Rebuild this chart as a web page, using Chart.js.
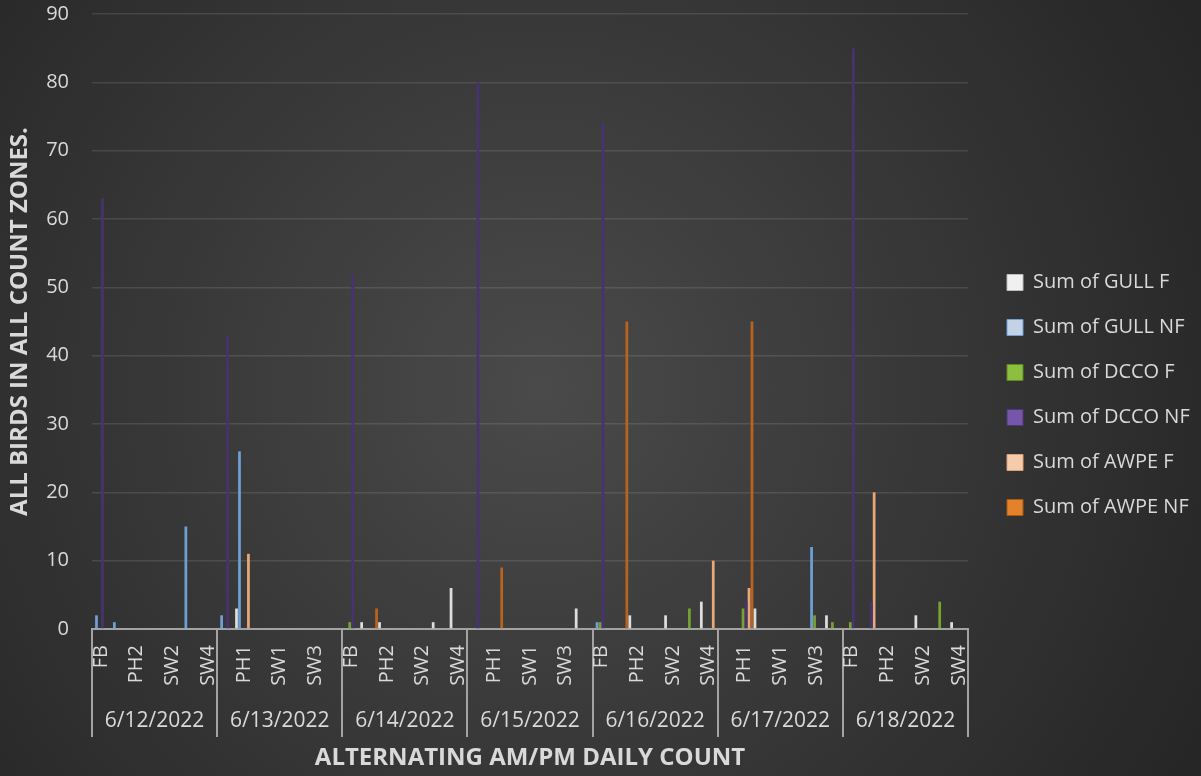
<!DOCTYPE html>
<html><head><meta charset="utf-8">
<script src="https://cdn.jsdelivr.net/npm/chart.js@4/dist/chart.umd.min.js"></script>
<style>html,body{margin:0;padding:0;background:#333;}#wrap{width:1201px;height:776px;position:relative;}</style>
</head><body><div id="wrap"><canvas id="c"></canvas></div>
<script>
const dates = ['6/12/2022','6/13/2022','6/14/2022','6/15/2022','6/16/2022','6/17/2022','6/18/2022'];
const zones = ['FB','PH1','PH2','SW1','SW2','SW3','SW4'];
const seriesNames = ['Sum of GULL F','Sum of GULL NF','Sum of DCCO F','Sum of DCCO NF','Sum of AWPE F','Sum of AWPE NF'];
const yTicks = [0,10,20,30,40,50,60,70,80,90];
const yTitle = 'ALL BIRDS IN ALL COUNT ZONES.';
const xTitle = 'ALTERNATING AM/PM DAILY COUNT';

// values per date group: FB, PH1, PH2, SW1, SW2, SW3, SW4
const gullF = [
  0,0,0,0,0,0,0,
  0,3,0,0,0,0,0,
  0,1,1,0,0,1,6,
  0,0,0,0,0,0,3,
  0,0,2,0,2,0,4,
  0,0,3,0,0,0,2,
  0,0,0,0,2,0,1];
const gullNF = [
  2,1,0,0,0,15,0,
  2,26,0,0,0,0,0,
  0,0,0,0,0,0,0,
  0,0,0,0,0,0,0,
  1,0,0,0,0,0,0,
  0,0,0,0,0,12,0,
  0,0,0,0,0,0,0];
const dccoF = [
  0,0,0,0,0,0,0,
  0,0,0,0,0,0,0,
  1,0,0,0,0,0,0,
  0,0,0,0,0,0,0,
  1,0,0,0,0,3,0,
  0,3,0,0,0,2,1,
  1,0,0,0,0,4,0];
const dccoNF = [
  63,0,0,0,0,0,0,
  43,0,0,0,0,0,0,
  52,0,0,0,0,0,0,
  80,0,0,0,0,0,0,
  74,0,0,0,0,0,0,
  0,4,0,0,0,0,0,
  85,4,0,0,0,0,0];
const awpeF = [
  0,0,0,0,0,0,0,
  0,11,0,0,0,0,0,
  0,0,0,0,0,0,0,
  0,0,0,0,0,0,0,
  0,0,0,0,0,0,10,
  0,6,0,0,0,0,0,
  0,20,0,0,0,0,0];
const awpeNF = [
  0,0,0,0,0,0,0,
  0,0,0,0,0,0,0,
  0,3,0,0,0,0,0,
  0,9,0,0,0,0,0,
  0,45,0,0,0,0,0,
  0,45,0,0,0,0,0,
  0,0,0,0,0,0,0];

const categories = dates.flatMap(() => zones);
const seriesValues = [gullF, gullNF, dccoF, dccoNF, awpeF, awpeNF];
const barColors = ['#dedede','#6f9fd8','#78a22f','#46336f','#e9a878','#b8641e'];
const legendFill = ['#f0f0f0','#c4d2e6','#8cbf3f','#7656a8','#f5cbaa','#e3822a'];
const legendStroke = ['#bdbdbd','#6f9fd8','#5e8a22','#4c3878','#d9a27a','#a85a14'];

const W = 1201, PLOT_RIGHT = 968, LEGEND_BOX_X = 1007, LEGEND_PAD = 25;
const txt = '#d9d9d9';
const sepColor = '#a3a3a3';
Chart.defaults.font.family = "'Open Sans', sans-serif";
Chart.defaults.color = txt;

const bgPlugin = {
  id: 'bg',
  beforeDraw(chart) {
    const {ctx, width, height} = chart;
    const g = ctx.createRadialGradient(width*0.45, height*0.5, 0, width*0.45, height*0.5, width*0.62);
    g.addColorStop(0, '#4a4a4a');
    g.addColorStop(1, '#262626');
    ctx.save(); ctx.fillStyle = g; ctx.fillRect(0, 0, width, height); ctx.restore();
  }
};

const chart = new Chart(document.getElementById('c'), {
  type: 'bar',
  data: {
    labels: categories,
    datasets: seriesNames.map((n, i) => ({
      label: n,
      data: seriesValues[i],
      backgroundColor: barColors[i],
      borderWidth: 0,
      barPercentage: 0.92,
      categoryPercentage: 1.0
    }))
  },
  plugins: [bgPlugin],
  options: {
    responsive: true,
    maintainAspectRatio: false,
    animation: false,
    layout: { padding: { top: 14, right: 10, bottom: 0, left: 0 } },
    plugins: {
      tooltip: { enabled: false },
      legend: {
        position: 'right',
        maxWidth: 400,
        labels: {
          color: txt,
          font: { size: 20 },
          boxWidth: 16,
          boxHeight: 16,
          padding: LEGEND_PAD,
          generateLabels(chart) {
            return chart.data.datasets.map((ds, i) => ({
              text: ds.label,
              fillStyle: legendFill[i],
              strokeStyle: legendStroke[i],
              lineWidth: 1,
              fontColor: txt,
              hidden: false,
              datasetIndex: i
            }));
          }
        }
      }
    },
    scales: {
      x: {
        type: 'category',
        position: 'bottom',
        weight: 0,
        offset: true,
        grid: {
          offset: true,
          drawOnChartArea: false,
          drawTicks: true,
          tickLength: 108,
          lineWidth: 2,
          color: (c) => (c.index === undefined || c.index % 7 === 0) ? sepColor : 'rgba(0,0,0,0)'
        },
        border: { display: true, color: sepColor, width: 2 },
        ticks: {
          autoSkip: false,
          minRotation: 90,
          maxRotation: 90,
          padding: -92,
          color: txt,
          font: { size: 20 },
          callback: function(v, i) { return i % 2 === 0 ? this.getLabelForValue(v) : ''; }
        },
        afterFit: (s) => { s.height = 64; }
      },
      x2: {
        type: 'category',
        position: 'bottom',
        weight: 1,
        labels: dates,
        offset: true,
        grid: { display: false, drawTicks: false },
        border: { display: false },
        ticks: { autoSkip: false, maxRotation: 0, minRotation: 0, padding: 15, color: txt, font: { size: 21 } },
        title: { display: true, text: xTitle, color: txt, font: { size: 24, weight: 'bold' }, padding: { top: 0, bottom: 3 } },
        afterFit: (s) => { s.height = 83; }
      },
      y: {
        min: 0,
        max: 90,
        afterBuildTicks: (s) => { s.ticks = yTicks.map(v => ({ value: v })); },
        grid: { color: 'rgba(255,255,255,0.11)', lineWidth: 1.5, drawTicks: true, tickLength: 23, tickColor: 'rgba(0,0,0,0)' },
        border: { display: false },
        ticks: { padding: 0, color: txt, font: { size: 20 } },
        title: { display: true, text: yTitle, color: txt, font: { size: 24, weight: 'bold' }, padding: { top: 6, bottom: 0 } },
        afterFit: (s) => { s.width = 92; }
      },
      y2: {
        position: 'right',
        display: true,
        grid: { display: false, drawTicks: false },
        border: { display: false },
        ticks: { display: false },
        afterFit: (s) => {
          const padR = s.chart.options.layout.padding.right;
          s.width = Math.max(0, W - padR - s.chart.legend.width - PLOT_RIGHT);
        }
      }
    }
  }
});
// place the legend so that its first box starts at LEGEND_BOX_X
const lw = chart.legend.width;
chart.options.layout.padding.right = Math.max(0, W - (LEGEND_BOX_X - LEGEND_PAD) - lw);
chart.update();
</script>
</body></html>
